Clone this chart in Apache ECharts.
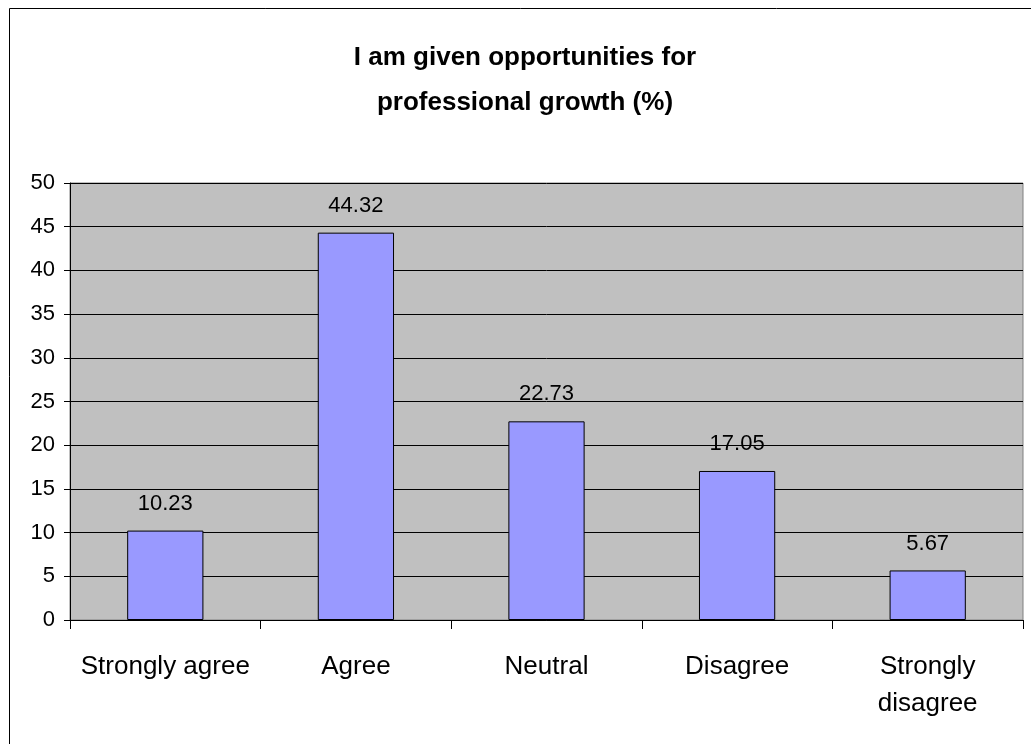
<!DOCTYPE html>
<html>
<head>
<meta charset="utf-8">
<style>
  html, body { margin: 0; padding: 0; background: #fff; }
  #chart { width: 1031px; height: 744px; }
</style>
<script src="https://cdn.jsdelivr.net/npm/echarts@6/dist/echarts.min.js"></script>
</head>
<body>
<div id="chart"></div>
<script>
// Survey responses, percentage of respondents per answer
const categories = ['Strongly agree', 'Agree', 'Neutral', 'Disagree', 'Strongly\ndisagree'];
const percentages = [10.23, 44.32, 22.73, 17.05, 5.67];
const yTicks = { min: 0, max: 50, step: 5 };
const titleLines = ['I am given opportunities for', 'professional growth (%)'];

const font = "'Liberation Sans', Arial, sans-serif";

const chart = echarts.init(document.getElementById('chart'), null, { renderer: 'canvas' });

chart.setOption({
  backgroundColor: '#ffffff',
  animation: false,
  graphic: [{
    type: 'rect',
    shape: { x: 9.5, y: 8.5, width: 1100, height: 800 },
    style: { fill: 'none', stroke: '#000', lineWidth: 1 },
    z: -10
  }],
  title: {
    text: titleLines.join('\n'),
    left: 520,
    top: 30,
    textAlign: 'center',
    textStyle: {
      fontFamily: font,
      fontWeight: 'bold',
      fontSize: 26,
      lineHeight: 45,
      color: '#000'
    }
  },
  grid: {
    left: 70,
    top: 183,
    right: 8,
    bottom: 124,
    show: true,
    backgroundColor: '#C0C0C0',
    borderColor: '#808080',
    borderWidth: 1,
    containLabel: false
  },
  xAxis: {
    type: 'category',
    data: categories,
    axisLine: { show: true, lineStyle: { color: '#000', width: 1 } },
    axisTick: { show: true, alignWithLabel: false, length: 9, lineStyle: { color: '#000' } },
    axisLabel: {
      margin: 28,
      color: '#000',
      fontFamily: font,
      fontSize: 26,
      lineHeight: 37,
      interval: 0
    },
    splitLine: { show: false }
  },
  yAxis: {
    type: 'value',
    min: yTicks.min,
    max: yTicks.max,
    interval: yTicks.step,
    axisLine: { show: true, lineStyle: { color: '#000', width: 1 } },
    axisTick: { show: true, inside: false, length: 6, lineStyle: { color: '#000' } },
    axisLabel: {
      margin: 15,
      color: '#000',
      fontFamily: font,
      fontSize: 22
    },
    splitLine: { show: true, lineStyle: { color: '#000', width: 1 } }
  },
  series: [{
    type: 'bar',
    data: percentages,
    barCategoryGap: '60%',
    itemStyle: { color: '#9999FF', borderColor: '#000', borderWidth: 1 },
    label: {
      show: true,
      position: 'top',
      distance: 16,
      color: '#000',
      fontFamily: font,
      fontSize: 22,
      formatter: p => p.value.toFixed(2)
    }
  }]
});
</script>
</body>
</html>
